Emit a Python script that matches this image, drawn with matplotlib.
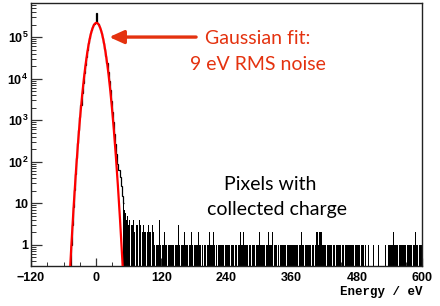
import numpy as np
import matplotlib
matplotlib.use("Agg")
import matplotlib.pyplot as plt
from matplotlib.ticker import FixedLocator, MultipleLocator, NullFormatter, FixedFormatter, LogLocator

# ---------------- data ----------------
bin_width = 2.0
# histogram bin centres (eV) for the peak region: -50 ... 48
peak_centres = list(range(-50, 50, 2))
peak_counts = [0, 0, 1, 3, 8, 21, 52, 123, 276, 591,
               1210, 2370, 4420, 7890, 13400, 21800, 33800, 50100, 70800, 95700,
               123400, 152000, 178700, 200600, 215000, 380000, 215000, 200600, 178700, 152000,
               123400, 95700, 72000, 52000, 35500, 23500, 14800, 8900, 5200, 2900,
               1600, 880, 470, 260, 150, 90, 62, 42, 26, 15]
# tail bin centres 50 ... 600
tail_centres = list(range(50, 602, 2))
tail_counts = [
    10, 7, 6, 4, 5, 3, 4, 0, 3, 4,
    2, 0, 3, 3, 0, 4, 3, 0, 2, 3,
    2, 0, 2, 3, 2, 2, 0, 3, 2, 1,
    0, 1, 1, 4, 1, 0, 1, 1, 2, 1,
    1, 0, 1, 1, 1, 1, 1, 0, 1, 1,
    1, 3, 1, 0, 1, 1, 2, 1, 1, 1,
    0, 1, 1, 2, 1, 0, 1, 1, 1, 2,
    1, 1, 0, 1, 0, 1, 1, 0, 1, 2,
    1, 1, 1, 2, 1, 0, 1, 0, 1, 1,
    1, 1, 1, 0, 1, 1, 1, 1, 1, 0,
    1, 1, 0, 1, 1, 0, 1, 1, 2, 1,
    1, 2, 1, 1, 1, 0, 1, 1, 0, 1,
    1, 1, 0, 1, 1, 2, 1, 1, 1, 1,
    1, 0, 1, 1, 2, 1, 1, 2, 0, 1,
    1, 1, 0, 1, 0, 1, 1, 1, 1, 1,
    0, 1, 1, 1, 1, 1, 1, 1, 1, 1,
    1, 0, 1, 1, 2, 1, 1, 0, 1, 1,
    1, 1, 1, 0, 1, 1, 0, 1, 2, 2,
    1, 2, 2, 1, 1, 1, 1, 0, 1, 1,
    1, 1, 1, 0, 1, 0, 1, 1, 1, 1,
    1, 0, 1, 1, 0, 1, 1, 1, 1, 1,
    1, 1, 1, 0, 1, 1, 1, 1, 0, 1,
    1, 1, 0, 1, 0, 0, 1, 0, 0, 0,
    1, 0, 0, 0, 0, 1, 0, 0, 0, 0,
    0, 1, 0, 0, 1, 1, 1, 1, 1, 2,
    1, 1, 1, 0, 1, 1, 1, 1, 1, 1,
    1, 0, 1, 1, 1, 1, 0, 1, 1, 2,
    1, 1, 0, 1, 1, 1]

# Gaussian fit parameters
fit_amp = 2.2e5
fit_mean = 0.5
fit_sigma = 9.3
fit_range = (-50.0, 49.5)

x_ticks = [-120, 0, 120, 240, 360, 480, 600]
y_ticks = [1, 10, 1e2, 1e3, 1e4, 1e5]
y_tick_labels = ["1", "10", "$\\mathregular{10^{2}}$", "$\\mathregular{10^{3}}$",
                 "$\\mathregular{10^{4}}$", "$\\mathregular{10^{5}}$"]

red_text = "#e4320f"

# ---------------- figure ----------------
W, H = 440, 306
fig = plt.figure(figsize=(W / 100, H / 100), dpi=100)
ax = fig.add_axes([31 / W, 1 - 266 / H, (422 - 31) / W, (266 - 3) / H])

centres = np.array(peak_centres + tail_centres, dtype=float)
counts = np.array(peak_counts + tail_counts, dtype=float)
edges = np.concatenate([centres - bin_width / 2, [centres[-1] + bin_width / 2]])
floor = 1e-2
vals = np.where(counts > 0, counts, floor)

ax.set_yscale("log")
n_peak = len(peak_centres)
# peak: outline only
ax.stairs(vals[:n_peak + 1], edges[:n_peak + 2], color="black", lw=0.9,
          baseline=None, zorder=2)
# tail: dense comb of filled bars
ax.stairs(vals[n_peak:], edges[n_peak:], fill=True, color="black", lw=0,
          baseline=floor, zorder=2)

xf = np.linspace(fit_range[0], fit_range[1], 400)
yf = fit_amp * np.exp(-0.5 * ((xf - fit_mean) / fit_sigma) ** 2)
ax.plot(xf, yf, color="#ff0000", lw=1.6, zorder=3)

ax.set_xlim(-120, 600)
ax.set_ylim(0.31, 6.6e5)

# ticks
ax.xaxis.set_major_locator(FixedLocator(x_ticks))
ax.xaxis.set_minor_locator(MultipleLocator(30))
ax.yaxis.set_major_locator(FixedLocator(y_ticks))
ax.yaxis.set_major_formatter(FixedFormatter(y_tick_labels))
ax.yaxis.set_minor_locator(LogLocator(base=10, subs=np.arange(2, 10)))
ax.yaxis.set_minor_formatter(NullFormatter())
ax.tick_params(axis="both", which="both", direction="in", top=False, right=False,
               color="#333333")
ax.tick_params(axis="y", which="major", length=8, width=0.9, pad=2)
ax.tick_params(axis="y", which="minor", length=3.6, width=0.7)
ax.tick_params(axis="x", which="major", length=5.5, width=0.9, pad=4)
ax.tick_params(axis="x", which="minor", length=2.7, width=0.7)
for lab in ax.get_xticklabels() + ax.get_yticklabels():
    lab.set_fontfamily("Liberation Sans")
    lab.set_fontweight("bold")
    lab.set_fontsize(9)
for sp in ax.spines.values():
    sp.set_linewidth(1.0)
    sp.set_color("#222222")

# axis title
fig.text(422 / W, 1 - 292 / H, "Energy / eV", ha="right", va="center",
         fontfamily="Liberation Mono", fontweight="bold", fontsize=9)

# arrow
ax.annotate("", xy=(24, 1e5), xytext=(184, 1e5),
            arrowprops=dict(arrowstyle="-|>,head_length=0.62,head_width=0.28",
                            mutation_scale=14, lw=2.4, color=red_text,
                            shrinkA=0, shrinkB=0))

def ftext(x, y, s, **kw):
    fig.text(x / W, 1 - y / H, s, ha="center", va="center", fontfamily="Lato", **kw)

ftext(258, 38, "Gaussian fit:", color=red_text, fontsize=14)
ftext(258, 65, "9 eV RMS noise", color=red_text, fontsize=14)
ftext(270, 185, "Pixels with", color="black", fontsize=14)
ftext(277, 210, "collected charge", color="black", fontsize=14)

fig.savefig("out.png", dpi=100)
